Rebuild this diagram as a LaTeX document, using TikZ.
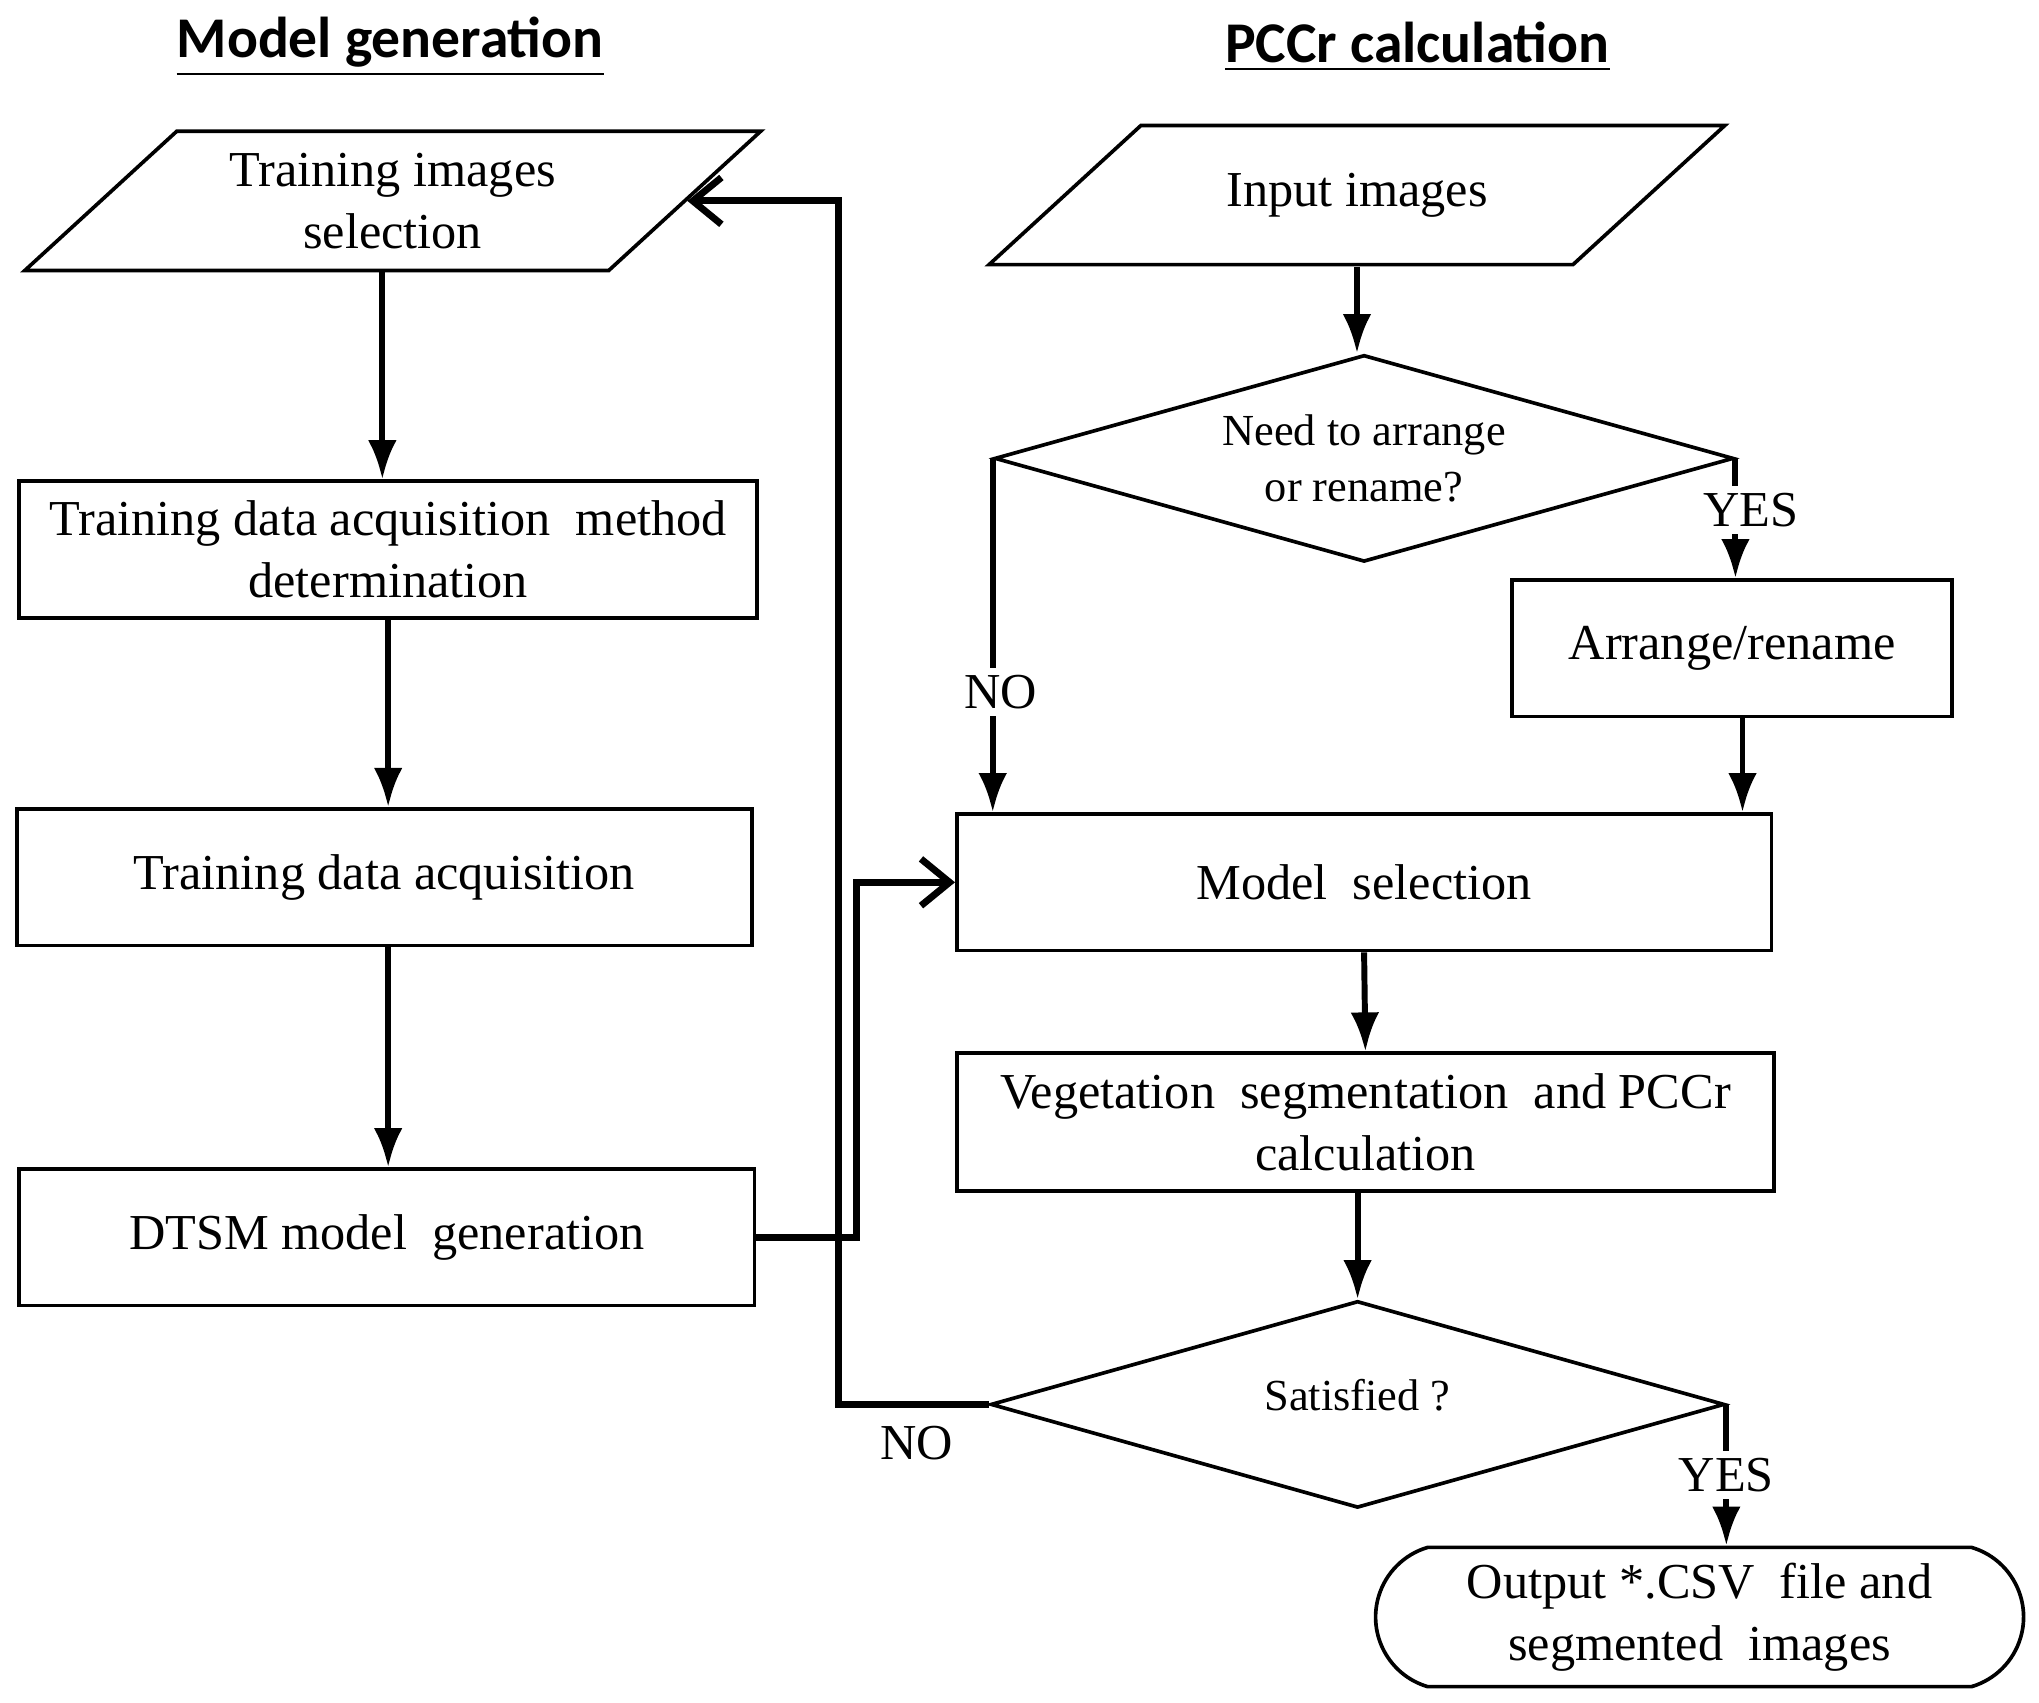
\documentclass[tikz,border=0pt]{standalone}
\usepackage{fontspec}
\setmainfont{Liberation Serif}
\newfontfamily\headfont{Carlito}
\usepackage{tikz}
\usetikzlibrary{calc,arrows.meta,shapes.geometric,shapes.misc}

% text body of the slanted input boxes (fixes their height)
\newcommand{\iobody}[1]{\parbox[c][1.07cm][c]{3.32cm}{\centering #1}}

\tikzset{
  procbox/.style={draw,line width=0.8pt,rectangle,inner sep=0pt,align=center,
    font=\fontsize{11}{13.6}\selectfont},
  iobox/.style={draw,line width=0.8pt,trapezium,trapezium left angle=42.5,
    trapezium right angle=137.5,inner sep=0pt,
    font=\fontsize{11}{13.6}\selectfont},
  decision/.style={draw,line width=0.8pt,diamond,aspect=3.57,inner sep=0pt,align=center,
    font=\fontsize{9.7}{12.2}\selectfont},
  termbox/.style={draw,line width=0.8pt,rounded rectangle,rounded rectangle arc length=147,
    inner sep=0pt,align=center,font=\fontsize{11}{13.6}\selectfont},
  arr/.style={line width=1.3pt,-{Latex[length=3mm,width=2.2mm]}},
  fbarr/.style={line width=1.5pt,-{Straight Barb[length=2.2mm,width=3.6mm,line width=1.5pt]}},
  lbl/.style={fill=white,inner sep=1.5pt,font=\fontsize{11}{13.6}\selectfont},
  headline/.style={font=\headfont\bfseries\fontsize{12.6}{15}\selectfont}
}

\begin{document}
\begin{tikzpicture}[x=0.01cm,y=-0.01cm]
  \useasboundingbox (0,0) rectangle (1568,1309);
  % titles
  \node[headline] (hleft) at (300,36) {\underline{Model generation}};
  \node[headline] (hright) at (1090,36) {\underline{PCCr calculation}};

  % model generation column
  \node[iobox] (train) at (302,154.5) {\iobody{Training images\\selection}};
  \node[procbox,minimum width=5.67cm,minimum height=1.05cm] (method) at (298.5,422.5) {Training data acquisition\ \ method\\determination};
  \node[procbox,minimum width=5.65cm,minimum height=1.05cm] (acq) at (295.5,674.5) {Training data acquisition};
  \node[procbox,minimum width=5.65cm,minimum height=1.05cm] (dtsm) at (297.5,951.5) {DTSM model\ \ generation};

  % PCCr calculation column
  \node[iobox] (input) at (1043.5,150) {\iobody{Input images}};
  \node[decision,minimum width=5.68cm,minimum height=1.59cm] (need) at (1049,352.5) {Need to arrange\\or rename?};
  \node[procbox,minimum width=3.38cm,minimum height=1.05cm] (arrange) at (1332,498.5) {Arrange/rename};
  \node[procbox,minimum width=6.26cm,minimum height=1.05cm] (model) at (1049,678.5) {Model\ \ selection};
  \node[procbox,minimum width=6.28cm,minimum height=1.06cm] (veg) at (1050,863) {Vegetation\ \ segmentation\ \ and PCCr\\calculation};
  \node[decision,text depth=0.14cm,minimum width=5.64cm,minimum height=1.59cm] (sat) at (1044,1080) {Satisfied ?};
  \node[termbox,minimum width=4.98cm,minimum height=1.07cm] (out) at (1307,1243.5) {Output *.CSV\ \ file and\\segmented\ \ images};

  % left column arrows
  \draw[arr] ([xshift=-0.08cm]train.south) -- ([xshift=-0.08cm]train.south |- method.north);
  \draw[arr] (method.south) -- (method.south |- acq.north);
  \draw[arr] ([xshift=0.03cm]acq.south) -- ([xshift=0.03cm]acq.south |- dtsm.north);
  \draw[fbarr] (dtsm.east) -- ++(77,0) |- (model.west);

  % right column arrows
  \draw[arr] (input.south) -- (input.south |- need.north);
  \draw[arr] (need.west) -- (need.west |- model.north) node[lbl,pos=0.66,xshift=0.06cm] (no1) {NO};
  \draw[arr] (need.east) -- (need.east |- arrange.north) node[lbl,pos=0.43,xshift=0.12cm] (yes1) {YES};
  \draw[arr] ([xshift=0.08cm]arrange.south) -- ([xshift=0.08cm]arrange.south |- model.north);
  \draw[arr] (model.south) -- (veg.north);
  \draw[arr] (sat.north |- veg.south) -- (sat.north);
  \draw[arr] (sat.east) -- (sat.east |- out.north) node[lbl,pos=0.5] (yes2) {YES};
  \coordinate (back) at (645,1080);
  \draw[fbarr] (sat.west) -- (back) |- (train.east);
  \node[lbl,fill=none] (no2) at (705,1110) {NO};
\end{tikzpicture}
\end{document}
